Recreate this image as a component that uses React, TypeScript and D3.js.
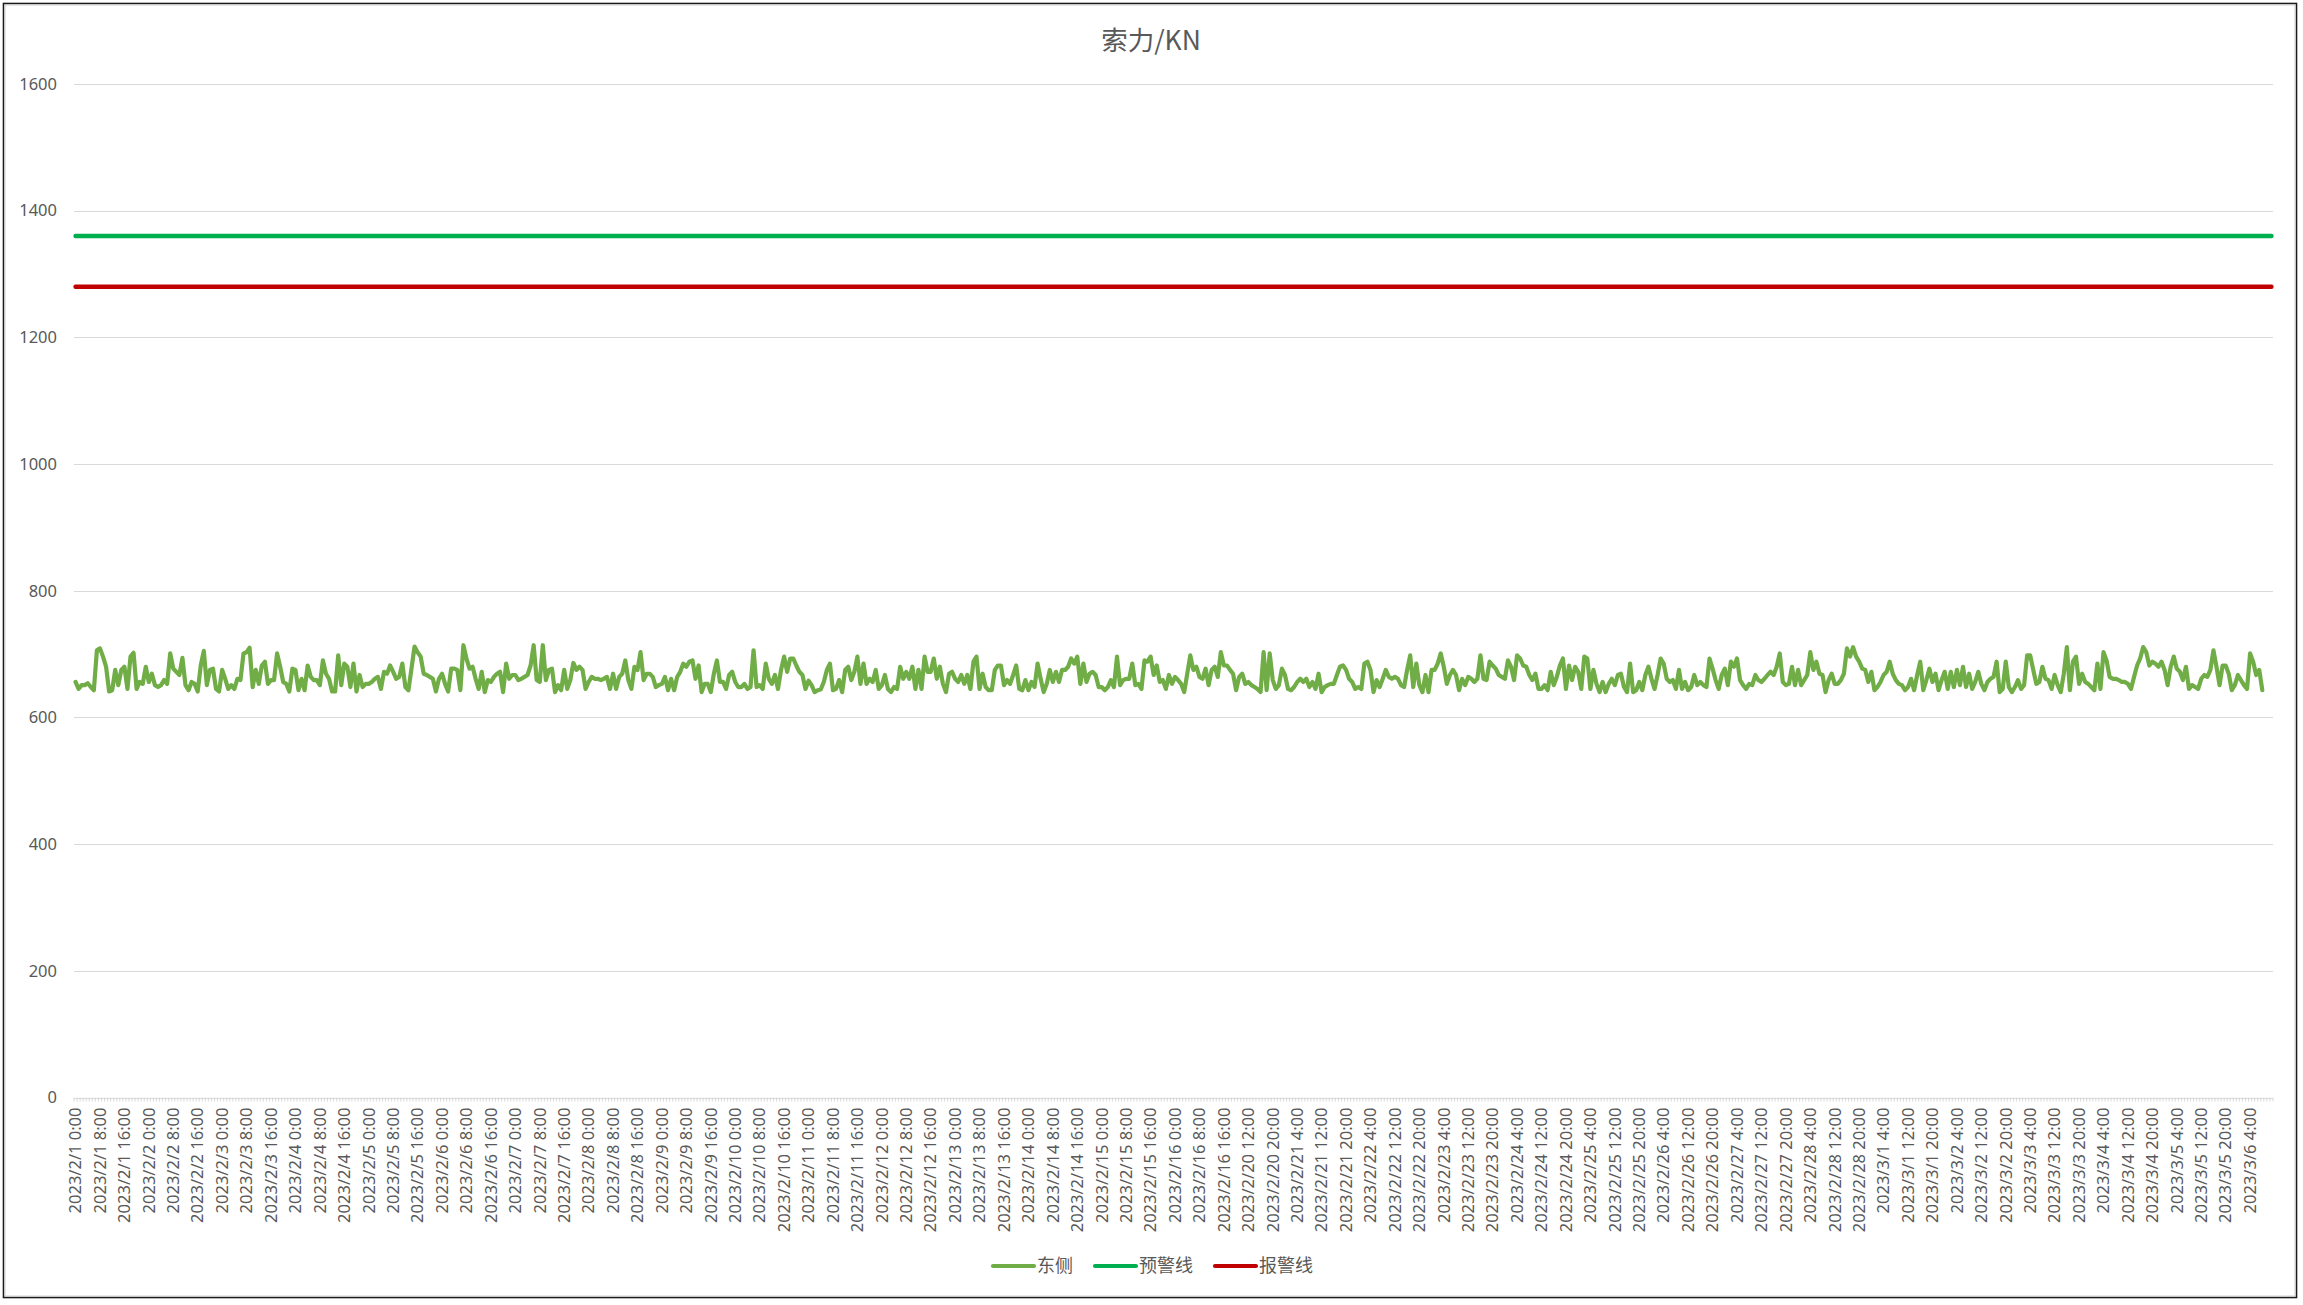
import React from 'react';
import * as d3 from 'd3';

const W = 2303;
const H = 1305;
const TITLE = '索力/KN';
const SERIES_NAMES = ['东侧', '预警线', '报警线'];
const SERIES_COLORS = ['#70AD47', '#00B050', '#C00000'];
const WARNING_LEVEL = 1360;
const ALARM_LEVEL = 1280;
const Y_TICKS = [0, 200, 400, 600, 800, 1000, 1200, 1400, 1600];
// hourly categories: 2023/2/1 0:00 .. 2023/2/16 23:00, then 2023/2/20 12:00 .. 2023/3/6 11:00
const CATEGORY_RANGES = [
  { start: Date.UTC(2023, 1, 1, 0), hours: 384 },
  { start: Date.UTC(2023, 1, 20, 12), hours: 336 },
];
const LABEL_EVERY = 8;

// 东侧 cable force (kN)
const east1 = [
  656, 645, 651, 651, 654, 648, 643, 706, 709, 696,
  680, 641, 643, 675, 651, 675, 680, 645, 696, 702,
  645, 656, 653, 680, 656, 669, 651, 648, 651, 659,
  653, 701, 677, 672, 667, 694, 651, 643, 656, 653,
  641, 682, 705, 651, 675, 677, 645, 641, 675, 661,
  645, 651, 645, 661, 659, 701, 703, 710, 648, 675,
  653, 682, 688, 653, 659, 659, 701, 680, 656, 653,
  641, 677, 675, 643, 661, 643, 682, 664, 659, 659,
  651, 690, 669, 661, 641, 641, 698, 651, 685, 680,
  648, 685, 641, 667, 648, 653, 653, 656, 661, 664,
  645, 672, 669, 682, 672, 661, 664, 685, 648, 643,
  677, 712, 703, 696, 669, 667, 664, 661, 641, 661,
  669, 653, 641, 677, 677, 675, 643, 714, 693, 677,
];
const east2 = [
  680, 661, 645, 672, 640, 659, 656, 664, 669, 672,
  640, 685, 661, 667, 667, 659, 661, 664, 667,
  682, 714, 659, 656, 714, 659, 675, 677, 640, 651,
  643, 675, 645, 659, 686, 675, 680, 675, 645,
  656, 664, 661, 661, 659, 661, 664, 645, 669, 645,
  664, 669, 690, 659, 645, 680, 675, 703, 659,
  669, 669, 664, 648, 651, 653, 664, 643, 661, 643,
  664, 672, 685, 680, 688, 690, 661, 682, 640,
  653, 653, 640, 669, 690, 656, 656, 645, 667, 672,
  656, 648, 648, 653, 645, 648, 706, 648, 651,
  645, 685, 661, 653, 667, 645, 675, 696, 672, 693,
  693, 682, 672, 667, 645, 658, 651, 640, 643,
  644, 656, 675, 685, 643, 645, 659, 640, 675, 680,
  659, 672, 696, 653, 685, 653, 661, 656, 675,
  645, 651, 667, 645, 640, 648, 645, 680, 661, 672,
  661, 680, 645, 675, 645, 696, 672, 672, 693,
  661, 680, 653, 640, 669, 672, 661, 656, 667, 653,
  667, 645, 688, 696, 645, 669, 648, 643, 643,
  675, 682, 682, 651, 659, 653, 667, 682, 645, 643,
  659, 643, 656, 648, 685, 661, 640,
];
const east3 = [
  653, 675, 656, 672, 656, 675, 675, 680, 693, 685,
  696, 653, 685, 656, 669, 672, 667, 648, 648, 643,
  648, 659, 648, 696, 651, 659, 661, 661, 685, 651,
  653, 645, 690, 688, 696, 667, 682, 656, 659, 645,
  667, 653, 664, 659, 653, 640, 669, 698, 675, 680,
  664, 661, 677, 651, 675, 680, 664, 703, 682, 682,
  675, 669, 643, 664, 669, 653, 656, 651, 648, 645,
  640, 703, 643, 701, 659, 645, 651, 677, 667, 645,
  643, 648, 656, 661, 656, 661, 648, 656, 645, 669,
  640, 648, 651, 653, 653, 667, 680, 682, 675, 661,
  656, 645, 648, 645, 685, 688, 675, 640, 659, 648,
  661, 675, 664, 661, 664, 661, 651, 648, 675, 698,
  648, 685, 651, 640, 667, 640, 675, 675, 685,
];
const east4 = [
  701, 680, 653, 667, 675, 667, 643, 661, 651, 664,
  661, 656, 661, 698, 661, 659, 688, 682, 677, 667,
  664, 661, 690, 680, 659, 698, 693, 682, 680, 667,
  659, 669, 645, 645, 651, 643, 672, 651, 664, 682,
  693, 645, 682, 659, 680, 672, 645, 696, 693, 645,
  675, 653, 640, 656, 640, 653, 661, 651, 667, 669,
  648, 640, 685, 640, 643, 656, 643, 667, 680, 661,
  645, 667, 693, 685, 661, 656, 659, 645, 675, 645,
  656, 643, 648, 667, 651, 656, 651, 648, 693, 677,
  659, 645, 667, 677, 651, 688, 680, 693, 659, 651,
  645, 653, 651, 667, 659, 656, 661, 667, 672, 667,
  680, 701, 656, 651, 653, 680, 651, 675, 651, 659,
  667, 703, 675, 688, 669, 667, 640, 659, 669, 653,
  653, 659, 669, 709, 696, 711, 696, 688, 677,
];
const east5 = [
  675, 656, 672, 643, 648, 656, 667, 672, 688, 669,
  659, 653, 651, 643, 648, 661, 643, 667, 688, 643,
  659, 677, 656, 669, 643, 659, 672, 645, 672, 648,
  675, 651, 680, 648, 669, 645, 656, 672, 653, 643,
  656, 661, 664, 688, 640, 645, 688, 648, 640, 648,
  659, 645, 651, 698, 698, 675, 653, 656, 680, 661,
  659, 645, 667, 651, 640, 669, 711, 643, 688, 696,
  653, 669, 656, 653, 648, 643, 685, 645, 703, 690,
  664, 661, 661, 659, 656, 656, 653, 645, 664, 682,
  693, 711, 703, 682, 688, 685, 680, 688, 675, 651,
  680, 696, 677, 672, 659, 680, 645, 651, 648, 645,
  661, 667, 664, 675, 706, 680, 651, 682, 682, 669,
  643, 651, 667, 659, 651, 645, 701, 688, 667, 675, 643,
];
const eastSide = [...east1, ...east2, ...east3, ...east4, ...east5];

const fmt = d3.utcFormat('%Y/%-m/%-d %-H:%M');
const categories: string[] = CATEGORY_RANGES.flatMap((r) =>
  d3.range(r.hours).map((h) => fmt(new Date(r.start + h * 3600000)))
);
const warningLine = categories.map(() => WARNING_LEVEL);
const alarmLine = categories.map(() => ALARM_LEVEL);

const PLOT = { left: 74, right: 2273, top: 84, bottom: 1097.5 };
const AXIS_FONT = '"Noto Sans", "Liberation Sans", sans-serif';
const CJK_FONT = '"Noto Sans CJK SC", "Noto Sans", sans-serif';
const TEXT_COLOR = '#595959';
const GRID_COLOR = '#D9D9D9';

export default function App() {
  const N = categories.length;
  const x = d3
    .scaleBand<number>()
    .domain(d3.range(N))
    .range([PLOT.left, PLOT.right])
    .paddingInner(0)
    .paddingOuter(0);
  const bw = x.bandwidth();
  const cx = (i: number) => (x(i) as number) + bw / 2;
  const y = d3.scaleLinear().domain([0, 1600]).range([PLOT.bottom, PLOT.top]);

  const line = d3
    .line<number>()
    .x((_, i) => cx(i))
    .y((d) => y(d));

  const series = [eastSide, warningLine, alarmLine];
  const widths = [4.2, 4.4, 4.4];

  const labelIdx = d3.range(0, N, LABEL_EVERY);
  const tickXs = d3.range(N + 1).map((k) => PLOT.left + k * bw);

  // legend layout
  const legendY = 1266;
  const legendCharW = 18;
  let lx = 993;
  const legendItems = SERIES_NAMES.map((name, i) => {
    const item = { name, color: SERIES_COLORS[i], x: lx };
    lx += 44 + name.length * legendCharW + 22;
    return item;
  });

  return (
    <svg
      width={W}
      height={H}
      viewBox={`0 0 ${W} ${H}`}
      style={{ position: 'absolute', left: 0, top: 0, background: '#fff' }}
    >
      <rect x={0} y={0} width={W} height={H} fill="#fff" />
      <rect x={3.5} y={3.5} width={2293} height={1294} fill="#fff" stroke="#1a1a1a" strokeWidth={1.6} />
      <rect x={5} y={5} width={2290} height={1291} fill="none" stroke="#d0d0d0" strokeWidth={1} />

      <text
        x={1151}
        y={50}
        textAnchor="middle"
        fontFamily={CJK_FONT}
        fontSize={26.5}
        fill={TEXT_COLOR}
      >
        {TITLE}
      </text>

      {/* gridlines */}
      {Y_TICKS.map((t) => (
        <line
          key={t}
          x1={PLOT.left}
          x2={PLOT.right}
          y1={Math.round(y(t)) + 0.5}
          y2={Math.round(y(t)) + 0.5}
          stroke={GRID_COLOR}
          strokeWidth={1.2}
        />
      ))}
      {/* y labels */}
      {Y_TICKS.map((t) => (
        <text
          key={'yl' + t}
          x={57}
          y={y(t)}
          dy="0.35em"
          textAnchor="end"
          fontFamily={AXIS_FONT}
          fontSize={16.5}
          fill={TEXT_COLOR}
        >
          {t}
        </text>
      ))}

      {/* x tick marks */}
      <path
        d={tickXs.map((tx) => `M${tx},${PLOT.bottom}V${PLOT.bottom + 4}`).join('')}
        stroke={GRID_COLOR}
        strokeWidth={1}
        fill="none"
      />
      {/* x labels */}
      {labelIdx.map((i) => (
        <text
          key={'xl' + i}
          transform={`translate(${cx(i)},${PLOT.bottom + 10}) rotate(-90)`}
          textAnchor="end"
          dy="0.35em"
          fontFamily={AXIS_FONT}
          fontSize={16.5}
          fill={TEXT_COLOR}
        >
          {categories[i]}
        </text>
      ))}

      {/* series */}
      {series.map((s, k) => (
        <path
          key={'s' + k}
          d={line(s) || ''}
          fill="none"
          stroke={SERIES_COLORS[k]}
          strokeWidth={widths[k]}
          strokeLinejoin="round"
          strokeLinecap="round"
        />
      ))}

      {/* legend */}
      {legendItems.map((it) => (
        <g key={it.name}>
          <line
            x1={it.x}
            x2={it.x + 41}
            y1={legendY}
            y2={legendY}
            stroke={it.color}
            strokeWidth={4.2}
            strokeLinecap="round"
          />
          <text
            x={it.x + 44}
            y={legendY}
            dy="0.35em"
            fontFamily={CJK_FONT}
            fontSize={18}
            fill={TEXT_COLOR}
          >
            {it.name}
          </text>
        </g>
      ))}
    </svg>
  );
}
